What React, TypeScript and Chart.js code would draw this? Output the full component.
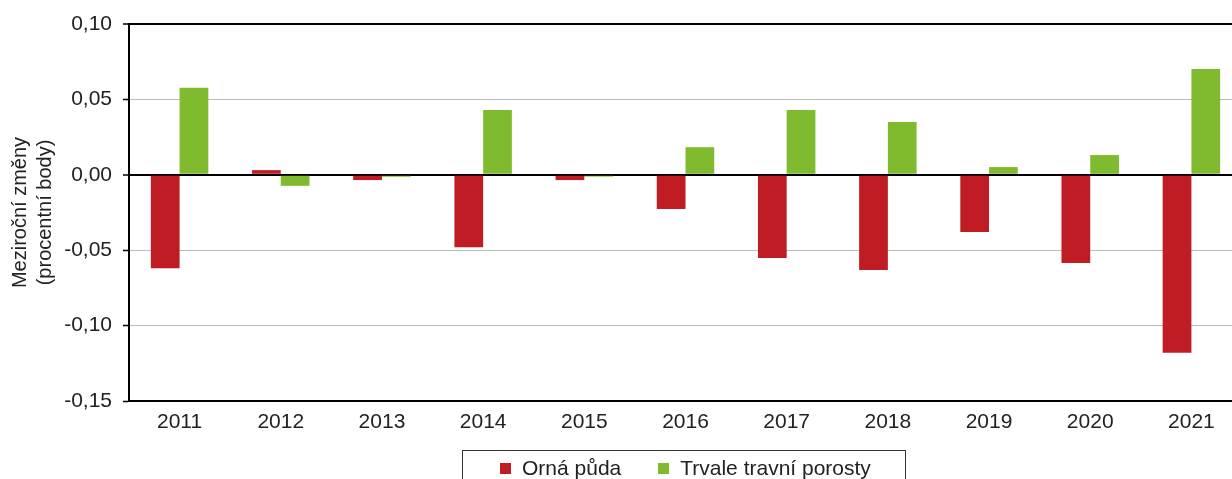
import React, { useEffect, useRef } from "react";
import { Chart, registerables } from "chart.js";

Chart.register(...registerables);

const categories = ["2011", "2012", "2013", "2014", "2015", "2016", "2017", "2018", "2019", "2020", "2021"];
const ornaPuda = [-0.0619, 0.0031, -0.0035, -0.048, -0.0035, -0.0227, -0.0552, -0.0632, -0.038, -0.0585, -0.118];
const trvaleTravniPorosty = [0.0577, -0.0073, -0.0013, 0.0429, -0.0012, 0.0183, 0.0429, 0.035, 0.0051, 0.0131, 0.0701];
const seriesLabels = ["Orná půda", "Trvale travní porosty"];
const seriesColors = ["#BF1C24", "#80BB2F"];
const yTitle = ["Meziroční změny", "(procentní body)"];

const FONT = "'Liberation Sans', Arial, sans-serif";

const boxedLegend = {
  id: "boxedLegend",
  afterDraw(chart: any) {
    const ctx = chart.ctx as CanvasRenderingContext2D;
    const boxLeft = 462.5;
    const boxW = 443;
    const boxTop = 450.5;
    ctx.save();
    ctx.strokeStyle = "#333";
    ctx.lineWidth = 1;
    ctx.strokeRect(boxLeft, boxTop, boxW, 60);
    ctx.font = `21px ${FONT}`;
    ctx.textBaseline = "alphabetic";
    const sq = 11;
    const gapSqText = 11;
    const gapItems = 37;
    let x = boxLeft + 37.5;
    chart.data.datasets.forEach((d: any) => {
      const w = ctx.measureText(d.label).width;
      ctx.fillStyle = d.backgroundColor;
      ctx.fillRect(Math.round(x), 463, sq, sq);
      ctx.fillStyle = "#222";
      ctx.fillText(d.label, x + sq + gapSqText, 475);
      x += sq + gapSqText + w + gapItems;
    });
    ctx.restore();
  },
};

export default function App() {
  const ref = useRef<HTMLCanvasElement | null>(null);

  useEffect(() => {
    if (!ref.current) return;
    const isBlack = (v: number) => Math.abs(v) < 1e-9 || Math.abs(v - 0.1) < 1e-9;
    const chart = new Chart(ref.current, {
      type: "bar",
      data: {
        labels: categories,
        datasets: [
          { label: seriesLabels[0], data: ornaPuda, backgroundColor: seriesColors[0], categoryPercentage: 0.568, barPercentage: 1 },
          { label: seriesLabels[1], data: trvaleTravniPorosty, backgroundColor: seriesColors[1], categoryPercentage: 0.568, barPercentage: 1 },
        ],
      },
      options: {
        animation: false,
        responsive: false,
        devicePixelRatio: 1,
        layout: { padding: { top: 24, right: 2, left: 0, bottom: 0 } },
        plugins: {
          legend: { display: false },
          tooltip: { enabled: false },
        },
        scales: {
          x: {
            grid: { display: false, drawTicks: false },
            border: { color: "#000", width: 2 },
            ticks: { padding: 9, color: "#222", font: { size: 21, family: FONT } },
            afterFit(scale: any) {
              scale.height = 78;
            },
          },
          y: {
            min: -0.15,
            max: 0.1,
            ticks: {
              stepSize: 0.05,
              padding: 11,
              color: "#222",
              font: { size: 21, family: FONT },
              callback: (v: any) => Number(v).toFixed(2).replace(".", ","),
            },
            grid: {
              color: (c: any) => (isBlack(c.tick.value) ? "#000" : "#BDBDBD"),
              lineWidth: (c: any) => (isBlack(c.tick.value) ? 2 : 1),
              tickColor: "#000",
              tickLength: 6,
              tickWidth: 1.5,
            },
            border: { color: "#000", width: 2 },
            title: {
              display: true,
              text: yTitle,
              color: "#222",
              font: { size: 20, family: FONT, lineHeight: 1.25 },
              padding: { top: 8, bottom: 0 },
            },
            afterFit(scale: any) {
              scale.width = 129;
            },
          },
        },
      },
      plugins: [boxedLegend],
    });
    return () => chart.destroy();
  }, []);

  return (
    <div style={{ position: "fixed", left: 0, top: 0, width: 1232, height: 479, overflow: "hidden", background: "#fff" }}>
      <canvas ref={ref} width={1244} height={479} style={{ display: "block", width: 1244, height: 479 }} />
    </div>
  );
}
